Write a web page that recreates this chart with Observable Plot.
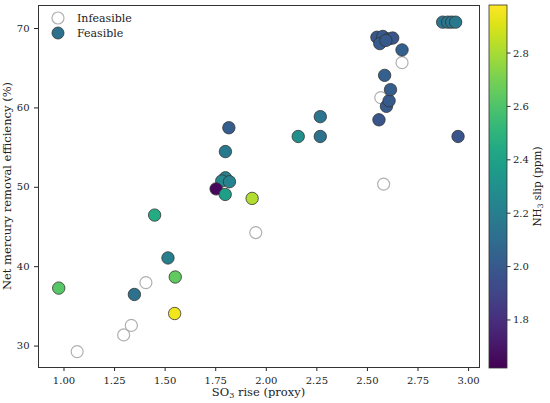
<!DOCTYPE html>
<html>
<head>
<meta charset="utf-8">
<script src="https://cdn.jsdelivr.net/npm/d3@7"></script>
<script src="https://cdn.jsdelivr.net/npm/@observablehq/plot@0.6"></script>
<style>
  body { margin: 0; background: #fff; }
  svg { font-family: "DejaVu Serif", serif; }
</style>
</head>
<body>
<div id="chart"></div>
<script>
// Feasible designs
const feasX = [0.974, 1.348, 1.448, 1.514, 1.550, 1.547, 1.930, 1.815, 1.798, 1.798, 1.780, 1.818, 1.752, 1.797,
               2.158, 2.267, 2.267, 2.557, 2.594, 2.607, 2.614, 2.585, 2.671,
               2.547, 2.576, 2.606, 2.625, 2.561, 2.591,
               2.872, 2.897, 2.916, 2.936, 2.948];
const feasY = [37.3, 36.5, 46.5, 41.1, 38.7, 34.1, 48.6, 57.5, 54.5, 51.2, 50.8, 50.7, 49.8, 49.1,
               56.4, 58.9, 56.4, 58.5, 60.2, 60.9, 62.3, 64.1, 67.3,
               68.9, 69.0, 68.7, 68.8, 68.1, 68.5,
               70.8, 70.8, 70.8, 70.8, 56.4];
const feasNH3 = [2.62, 2.12, 2.45, 2.20, 2.65, 2.95, 2.82, 2.02, 2.17, 2.22, 2.25, 2.22, 1.65, 2.38,
                 2.30, 2.15, 2.13, 1.98, 2.00, 2.00, 2.02, 2.03, 2.03,
                 1.99, 2.00, 2.02, 1.98, 2.01, 2.00,
                 2.15, 2.16, 2.15, 2.17, 1.98];
// Infeasible designs
const infX = [1.065, 1.295, 1.333, 1.405, 1.948, 2.566, 2.580, 2.671];
const infY = [29.3, 31.4, 32.6, 38.0, 44.3, 61.3, 50.4, 65.7];

const xTicks = [1.00, 1.25, 1.50, 1.75, 2.00, 2.25, 2.50, 2.75, 3.00];
const yTicks = [30, 40, 50, 60, 70];
const cTicks = [1.8, 2.0, 2.2, 2.4, 2.6, 2.8];
const cDomain = [1.62, 2.98];

const feasible = feasX.map((x, i) => ({x, y: feasY[i], c: feasNH3[i]}));
const infeasible = infX.map((x, i) => ({x, y: infY[i]}));

const W = 550, H = 403;
const mL = 38, mR = 71, mT = 5, mB = 36;

const svg = Plot.plot({
  width: W, height: H,
  marginLeft: mL, marginRight: mR, marginTop: mT, marginBottom: mB,
  style: {fontFamily: "DejaVu Serif", fontSize: "10px", color: "#222", background: "#fff"},
  x: {domain: [0.874, 3.054], ticks: xTicks, tickFormat: d3.format(".2f"), tickSize: 4, label: null},
  y: {domain: [27.3, 72.9], ticks: yTicks, tickSize: 4, label: null},
  color: {type: "linear", scheme: "viridis", domain: cDomain},
  marks: [
    Plot.frame({stroke: "#333", strokeWidth: 1}),
    Plot.dot(infeasible, {x: "x", y: "y", r: 6, fill: "white", stroke: "#b0b0b0", strokeWidth: 1.2}),
    Plot.dot(feasible, {x: "x", y: "y", r: 6.2, fill: "c", stroke: "#333", strokeWidth: 0.8})
  ]
});

const color = svg.scale("color");
const s = d3.select(svg);

// axis labels
s.append("text").attr("x", mL + (W - mL - mR) / 2).attr("y", 396)
  .attr("text-anchor", "middle").attr("font-size", 11.5).attr("fill", "#222")
  .html('SO<tspan font-size="8" dy="2">3</tspan><tspan dy="-2"> rise (proxy)</tspan>');
s.append("text").attr("transform", `translate(11,${mT + (H - mT - mB) / 2}) rotate(-90)`)
  .attr("text-anchor", "middle").attr("font-size", 11.5).attr("fill", "#222")
  .text("Net mercury removal efficiency (%)");

// legend
const lg = s.append("g").attr("font-size", 11).attr("fill", "#222").attr("text-anchor", "start");
lg.append("circle").attr("cx", 58).attr("cy", 18).attr("r", 6).attr("fill", "white").attr("stroke", "#b0b0b0").attr("stroke-width", 1.2);
lg.append("text").attr("x", 77).attr("y", 22).text("Infeasible");
lg.append("circle").attr("cx", 58).attr("cy", 33).attr("r", 6).attr("fill", color.apply(2.13)).attr("stroke", "#333").attr("stroke-width", 0.8);
lg.append("text").attr("x", 77).attr("y", 37).text("Feasible");

// colorbar
const cbX = 489, cbW = 18, cbTop = 5, cbBot = 368;
const cy = d3.scaleLinear().domain(cDomain).range([cbBot, cbTop]);
const defs = s.append("defs");
const grad = defs.append("linearGradient").attr("id", "cbgrad").attr("x1", 0).attr("y1", 1).attr("x2", 0).attr("y2", 0);
d3.range(0, 1.0001, 0.05).forEach(t => {
  grad.append("stop").attr("offset", t).attr("stop-color", color.apply(cDomain[0] + t * (cDomain[1] - cDomain[0])));
});
s.append("rect").attr("x", cbX).attr("y", cbTop).attr("width", cbW).attr("height", cbBot - cbTop)
  .attr("fill", "url(#cbgrad)").attr("stroke", "#333").attr("stroke-width", 0.8);
const cg = s.append("g").attr("font-size", 10).attr("fill", "#222").attr("text-anchor", "start");
cTicks.forEach(t => {
  cg.append("line").attr("x1", cbX + cbW).attr("x2", cbX + cbW + 3.5).attr("y1", cy(t)).attr("y2", cy(t)).attr("stroke", "#333");
  cg.append("text").attr("x", cbX + cbW + 6).attr("y", cy(t)).attr("dy", "0.35em").text(t.toFixed(1));
});
s.append("text").attr("transform", `translate(541,${(cbTop + cbBot) / 2}) rotate(-90)`)
  .attr("text-anchor", "middle").attr("font-size", 10.5).attr("fill", "#222")
  .html('NH<tspan font-size="7.5" dy="2">3</tspan><tspan dy="-2"> slip (ppm)</tspan>');

document.getElementById("chart").appendChild(svg);
</script>
</body>
</html>
